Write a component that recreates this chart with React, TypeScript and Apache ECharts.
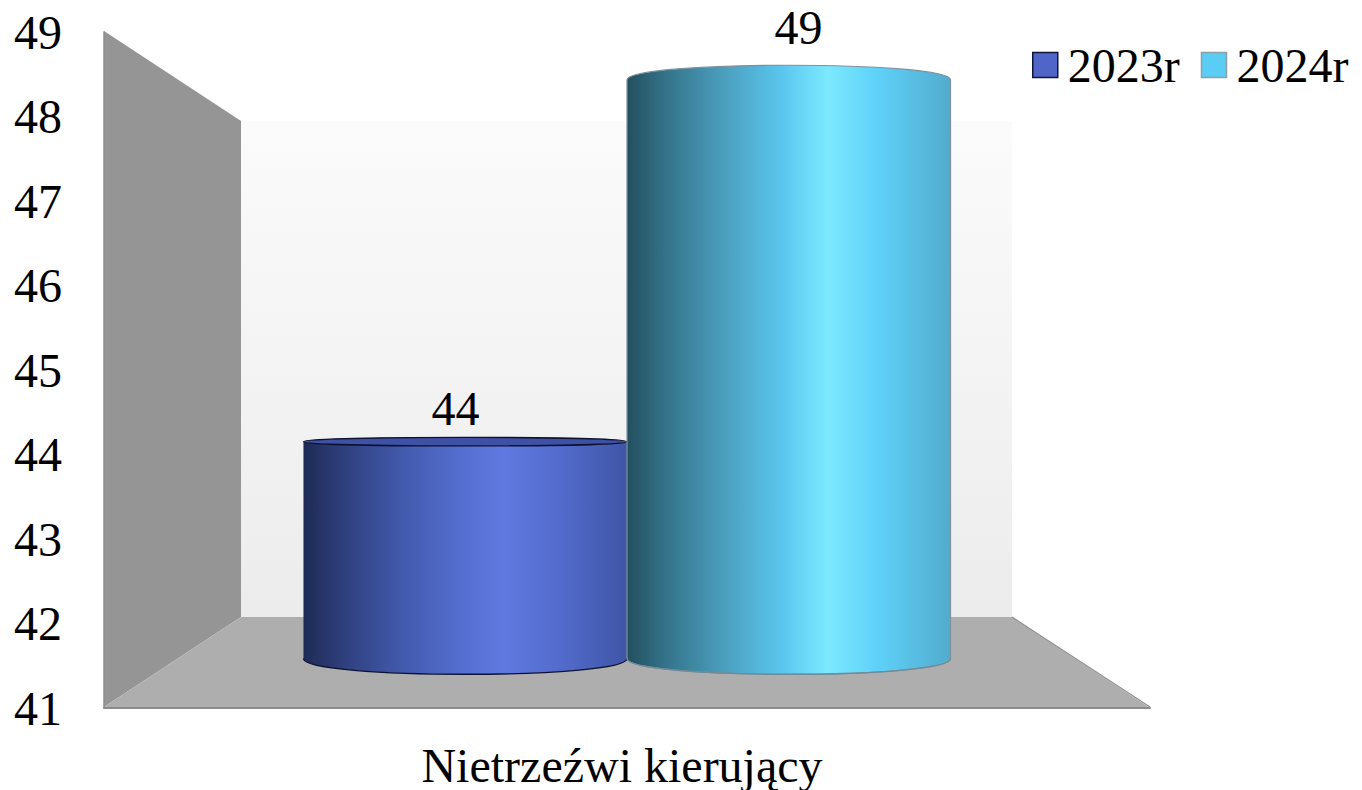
import React, { useEffect, useRef } from "react";
import * as echarts from "echarts";

const categories = ["Nietrzeźwi kierujący"];
const seriesNames = ["2023r", "2024r"];
const values2023 = [44];
const values2024 = [49];
const axisMin = 41;
const axisMax = 49;

const FONT = '"Liberation Serif", "Times New Roman", serif';
const FONT_SIZE = 48;
const BAR_SHARE = 0.3093;
const EYE_Y = 360;
const PERSPECTIVE = 19;

type Look = { stops: [number, string][]; stroke: string; side: string; cap: string };

const blueLook: Look = {
  stops: [
    [0, "#1e2a55"],
    [0.12, "#2f3f7c"],
    [0.3, "#4259ab"],
    [0.5, "#5570d2"],
    [0.62, "#5f79e0"],
    [0.8, "#526bcb"],
    [1, "#3f55a6"],
  ],
  stroke: "#0c1230",
  side: "none",
  cap: "#3f51a5",
};
const cyanLook: Look = {
  stops: [
    [0, "#234f5f"],
    [0.12, "#34738a"],
    [0.3, "#4b9fbe"],
    [0.48, "#5ac6ee"],
    [0.62, "#7ce9ff"],
    [0.78, "#5ed0f8"],
    [1, "#52abcc"],
  ],
  stroke: "#6f8a98",
  side: "#7f929c",
  cap: "#4b9fbe",
};

function gradient(look: Look) {
  return new echarts.graphic.LinearGradient(
    0,
    0,
    1,
    0,
    look.stops.map(([offset, color]) => ({ offset, color }))
  );
}

function cylinder(side: number, look: Look) {
  return (_params: any, api: any) => {
    const cat = api.value(0);
    const val = api.value(1);
    const top = api.coord([cat, val]);
    const base = api.coord([cat, axisMin]);
    const width = api.size([1, 0])[0] * BAR_SHARE;
    const x0 = side < 0 ? top[0] - width : top[0];
    const x1 = x0 + width;
    const cx = (x0 + x1) / 2;
    const yt = top[1];
    const yb = base[1];
    const rt = (yt - EYE_Y) / PERSPECTIVE;
    const rb = (yb - EYE_Y) / PERSPECTIVE;
    const k = 4 / 3;
    const d =
      `M${x0} ${yt}L${x0} ${yb}C${x0} ${yb + rb * k} ${x1} ${yb + rb * k} ${x1} ${yb}` +
      `L${x1} ${yt}C${x1} ${yt + rt * k} ${x0} ${yt + rt * k} ${x0} ${yt}Z`;
    const topEdge = Math.min(yt, yt + rt);
    const children: any[] = [
      {
        type: "path",
        shape: {
          pathData: d,
          layout: "cover",
          x: x0,
          y: topEdge,
          width,
          height: yb + rb - topEdge,
        },
        style: { fill: gradient(look), stroke: look.side, lineWidth: 1.2 },
      },
      {
        type: "path",
        shape: {
          pathData: `M${x0} ${yb}C${x0} ${yb + rb * k} ${x1} ${yb + rb * k} ${x1} ${yb}`,
          layout: "cover",
          x: x0,
          y: yb,
          width,
          height: rb,
        },
        style: { fill: "none", stroke: look.stroke, lineWidth: 1.4 },
      },
    ];
    if (rt > 0) {
      children.push({
        type: "ellipse",
        shape: { cx, cy: yt, rx: width / 2, ry: rt },
        style: { fill: look.cap, stroke: look.stroke, lineWidth: 1.4 },
      });
    }
    children.push({
      type: "text",
      style: {
        text: String(val),
        x: cx + (cx - top[0]) * 0.06,
        y: yt - 37.3 + rt,
        fill: "#000",
        font: `${FONT_SIZE}px ${FONT}`,
        align: "center",
        verticalAlign: "middle",
      },
    });
    return { type: "group", children };
  };
}

const wallFill = new echarts.graphic.LinearGradient(0, 0, 0, 1, [
  { offset: 0, color: "#fbfbfb" },
  { offset: 1, color: "#ececec" },
]);

export default function App() {
  const ref = useRef<HTMLDivElement>(null);
  useEffect(() => {
    const chart = echarts.init(ref.current!, undefined, { renderer: "svg" });
    chart.setOption({
      animation: false,
      backgroundColor: "#fff",
      textStyle: { fontFamily: FONT },
      graphic: {
        elements: [
          {
            type: "rect",
            z: 0,
            shape: { x: 241, y: 121, width: 771, height: 496 },
            style: { fill: wallFill },
          },
          {
            type: "polygon",
            z: 0,
            shape: { points: [[104, 31], [241, 121], [241, 617], [104, 707]] },
            style: { fill: "#959595" },
          },
          {
            type: "polygon",
            z: 0,
            shape: { points: [[104, 707], [241, 617], [1012, 617], [1150, 708]] },
            style: { fill: "#aeaeae" },
          },
          {
            type: "polyline",
            z: 0,
            shape: { points: [[1012, 617], [1150, 707]] },
            style: { stroke: "#8c8c8c", lineWidth: 1.2, fill: "none" },
          },
        ],
      },
      grid: [
        { left: 104, right: 212, top: 32, bottom: 82 },
        { left: 104, right: 212, top: 80, bottom: 131.4 },
      ],
      xAxis: [
        {
          type: "category",
          gridIndex: 0,
          data: categories,
          axisTick: { show: false },
          axisLine: { lineStyle: { color: "#8c8c8c", width: 2 } },
          axisLabel: {
            color: "#000",
            fontSize: FONT_SIZE,
            fontFamily: FONT,
            margin: 33,
            padding: [0, 10, 0, 0],
          },
        },
        { type: "category", gridIndex: 1, data: categories, show: false },
      ],
      yAxis: [
        {
          type: "value",
          gridIndex: 0,
          min: axisMin,
          max: axisMax,
          interval: 1,
          splitLine: { show: false },
          axisTick: { show: false },
          axisLine: { show: true, lineStyle: { color: "#8c8c8c", width: 1.5 } },
          axisLabel: { color: "#000", fontSize: FONT_SIZE, fontFamily: FONT, margin: 42 },
        },
        { type: "value", gridIndex: 1, min: axisMin, max: axisMax, interval: 1, show: false },
      ],
      legend: {
        left: 1027,
        top: 36,
        itemWidth: 25,
        itemHeight: 25,
        itemGap: 21,
        icon: "rect",
        textStyle: { color: "#000", fontSize: FONT_SIZE, fontFamily: FONT, padding: [0, 0, 0, 5] },
        data: [
          {
            name: seriesNames[0],
            itemStyle: { color: "#4f66c8", borderColor: "#10163a", borderWidth: 1.5 },
          },
          {
            name: seriesNames[1],
            itemStyle: { color: "#5bcdf4", borderColor: "#8f9da5", borderWidth: 1.5 },
          },
        ],
      },
      series: [
        {
          type: "custom",
          name: seriesNames[0],
          xAxisIndex: 1,
          yAxisIndex: 1,
          itemStyle: { color: "#4f66c8" },
          encode: { x: 0, y: 1 },
          renderItem: cylinder(-1, blueLook),
          data: values2023.map((v, i) => [i, v]),
        },
        {
          type: "custom",
          name: seriesNames[1],
          xAxisIndex: 1,
          yAxisIndex: 1,
          itemStyle: { color: "#5bcdf4" },
          encode: { x: 0, y: 1 },
          renderItem: cylinder(1, cyanLook),
          data: values2024.map((v, i) => [i, v]),
        },
      ],
    });
    return () => chart.dispose();
  }, []);
  return (
    <div
      ref={ref}
      style={{ position: "fixed", left: 0, top: 0, width: 1362, height: 790 }}
    />
  );
}
